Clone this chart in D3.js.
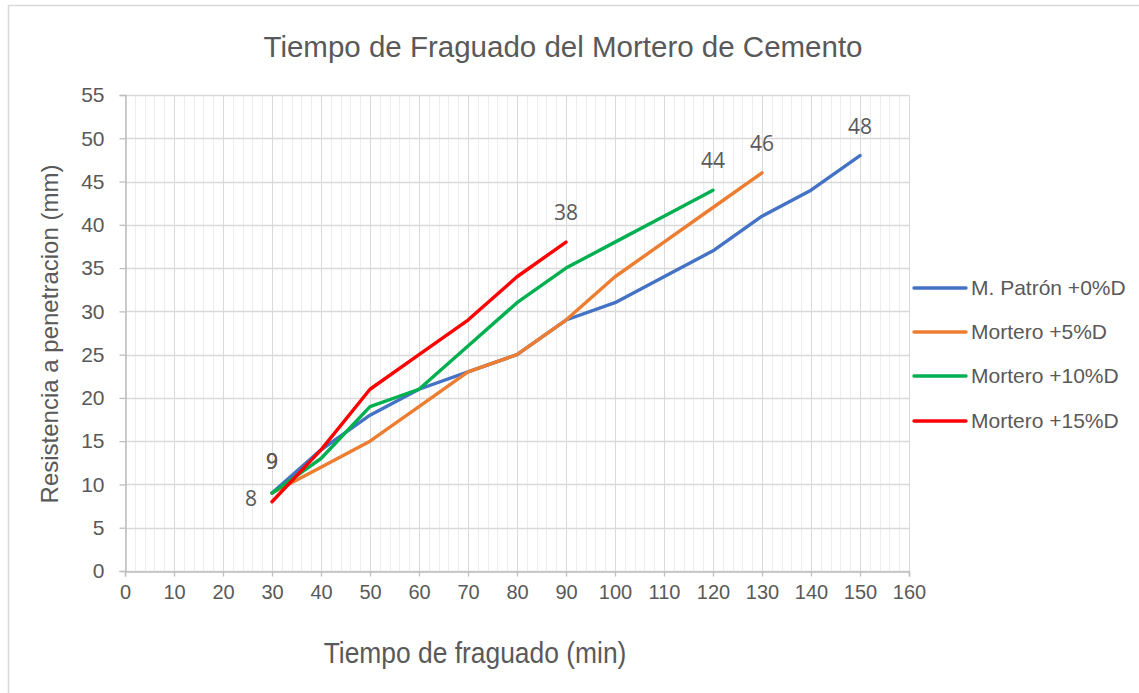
<!DOCTYPE html>
<html>
<head>
<meta charset="utf-8">
<script src="https://cdn.jsdelivr.net/npm/d3@7"></script>
<style>
body{margin:0;background:#fff;}
svg text{font-family:"Liberation Sans",Arial,sans-serif;fill:#595959;}
</style>
</head>
<body>
<div id="chart"></div>
<script>
// tiempos (min) y valores por serie
var seriesNames = ["M. Patrón +0%D","Mortero +5%D","Mortero +10%D","Mortero +15%D"];
var seriesColors = ["#4472C4","#ED7D31","#00B050","#FF0000"];
var xPatron = [30,40,50,60,70,80,90,100,110,120,130,140,150];
var yPatron = [9,14,18,21,23,25,29,31,34,37,41,44,48];
var x5 = [30,40,50,60,70,80,90,100,110,120,130];
var y5 = [9,12,15,19,23,25,29,34,38,42,46];
var x10 = [30,40,50,60,70,80,90,100,110,120];
var y10 = [9,13,19,21,26,31,35,38,41,44];
var x15 = [30,40,50,60,70,80,90];
var y15 = [8,14,21,25,29,34,38];
var xTicks = d3.range(0,161,10);
var yTicks = d3.range(0,56,5);

var W = 1139, H = 693;
var mLeft = 125, mRight = 909, mTop = 95, mBottom = 571;
var svg = d3.select("#chart").append("svg").attr("width",W).attr("height",H);

svg.append("rect").attr("x",8.5).attr("y",5.5).attr("width",W).attr("height",H)
	.attr("fill","#fff").attr("stroke","#d9d9d9").attr("stroke-width",1.5);

var x = d3.scaleLinear().domain([0,160]).range([mLeft,mRight]);
var y = d3.scaleLinear().domain([0,55]).range([mBottom,mTop]);

// cuadricula
svg.append("g").selectAll("line").data(d3.range(0,161,2)).enter().append("line")
	.attr("x1",function(d){return Math.round(x(d))+0.5;})
	.attr("x2",function(d){return Math.round(x(d))+0.5;})
	.attr("y1",mTop).attr("y2",mBottom)
	.attr("stroke","#ededed").attr("stroke-width",1);
svg.append("g").selectAll("line").data(xTicks).enter().append("line")
	.attr("x1",function(d){return Math.round(x(d))+0.5;})
	.attr("x2",function(d){return Math.round(x(d))+0.5;})
	.attr("y1",mTop).attr("y2",mBottom)
	.attr("stroke","#d9d9d9").attr("stroke-width",1);
svg.append("g").selectAll("line").data(yTicks).enter().append("line")
	.attr("x1",mLeft).attr("x2",mRight)
	.attr("y1",function(d){return Math.round(y(d))+0.5;})
	.attr("y2",function(d){return Math.round(y(d))+0.5;})
	.attr("stroke","#d9d9d9").attr("stroke-width",1.3);

// ejes
var xAxis = svg.append("g").attr("transform","translate(0,"+(mBottom+0.5)+")")
	.call(d3.axisBottom(x).tickValues(xTicks).tickSize(5).tickPadding(8).tickFormat(d3.format("d")));
var yAxis = svg.append("g").attr("transform","translate("+(mLeft+0.5)+",0)")
	.call(d3.axisLeft(y).tickValues(yTicks).tickSize(6).tickPadding(15).tickFormat(d3.format("d")));
[xAxis,yAxis].forEach(function(a){
	a.select(".domain").attr("stroke","#bfbfbf").attr("stroke-width",1.5);
	a.selectAll(".tick line").attr("stroke","#bfbfbf").attr("stroke-width",1.3);
	a.selectAll(".tick text").attr("fill","#595959")
		.style("font-family","'Liberation Sans',Arial,sans-serif");
});
yAxis.selectAll(".tick text").attr("font-size","21px");
xAxis.selectAll(".tick text").attr("font-size","20px");

var series = [
	{xs:xPatron, ys:yPatron},
	{xs:x5, ys:y5},
	{xs:x10, ys:y10},
	{xs:x15, ys:y15}
];
var line = d3.line().x(function(d){return x(d[0]);}).y(function(d){return y(d[1]);});
series.forEach(function(s,i){
	var pts = s.xs.map(function(v,j){return [v,s.ys[j]];});
	svg.append("path").datum(pts).attr("d",line)
		.attr("fill","none").attr("stroke",seriesColors[i])
		.attr("stroke-width",3.4).attr("stroke-linejoin","round").attr("stroke-linecap","round");
});

// etiquetas de datos: primero y ultimo
var lbl = svg.append("g");
function dataLabel(px,py,t){
	lbl.append("text").attr("x",px).attr("y",py)
		.attr("text-anchor","middle").attr("font-size","21px").attr("fill","#404040")
		.style("font-family","'Open Sans','DejaVu Sans',sans-serif").text(t);
}
series.forEach(function(s,i){
	var n = s.xs.length-1;
	dataLabel(x(s.xs[n]),y(s.ys[n])-22,s.ys[n]);
	if(i<3) dataLabel(x(s.xs[0]),y(s.ys[0])-24,s.ys[0]);
	else dataLabel(x(s.xs[0])-21,y(s.ys[0])+4,s.ys[0]);
});

// titulos
svg.append("text").attr("x",563).attr("y",57).attr("text-anchor","middle")
	.attr("font-size","29.5px").text("Tiempo de Fraguado del Mortero de Cemento");
svg.append("text").attr("transform","translate(475,663) scale(0.88,1)").attr("text-anchor","middle")
	.attr("font-size","30px").text("Tiempo de fraguado (min)");
svg.append("text").attr("transform","translate(58,334) rotate(-90)").attr("text-anchor","middle")
	.attr("font-size","24px").text("Resistencia a penetracion (mm)");

// leyenda
var leg = svg.append("g");
var legY = [288,332,376,421];
seriesNames.forEach(function(name,i){
	leg.append("line").attr("x1",914).attr("x2",966).attr("y1",legY[i]).attr("y2",legY[i])
		.attr("stroke",seriesColors[i]).attr("stroke-width",3.4).attr("stroke-linecap","round");
	leg.append("text").attr("x",971).attr("y",legY[i]+7).attr("font-size","21px").text(name);
});
</script>
</body>
</html>
